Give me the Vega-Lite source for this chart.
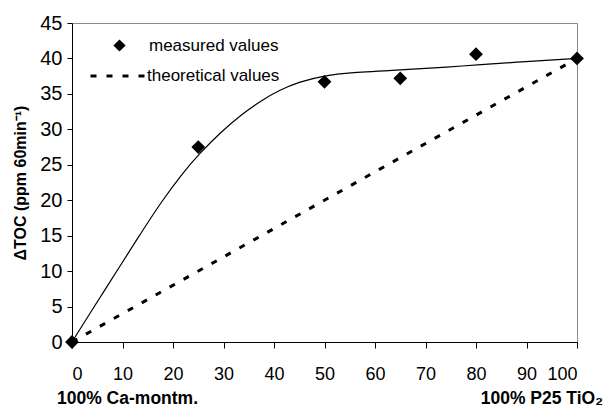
{
  "$schema": "https://vega.github.io/schema/vega-lite/v6.json",
  "width": 505,
  "height": 319,
  "autosize": {"type": "none"},
  "padding": {"left": 72, "top": 23, "right": 28, "bottom": 66},
  "background": "white",
  "config": {
    "font": "Liberation Sans",
    "view": {"stroke": "#8c8c8c", "strokeWidth": 1},
    "axis": {
      "domainColor": "black",
      "domainWidth": 1,
      "tickColor": "black",
      "labelColor": "black",
      "labelFont": "Liberation Sans",
      "grid": false,
      "titleColor": "black"
    },
    "legend": {"labelFontSize": 17, "labelColor": "black", "labelFont": "Liberation Sans"}
  },
  "encoding": {
    "x": {"field": "x", "type": "quantitative", "scale": {"domain": [0, 100], "nice": false},
      "axis": {"values": [0,10,20,30,40,50,60,70,80,90,100], "title": null, "tickSize": 6, "labelPadding": 17, "labelFontSize": 18}},
    "y": {"field": "y", "type": "quantitative", "scale": {"domain": [0, 45], "nice": false},
      "axis": {"values": [0,5,10,15,20,25,30,35,40,45], "title": "ΔTOC (ppm 60min⁻¹)", "tickSize": 5, "labelPadding": 5, "labelFontSize": 20,
        "titleFont": "Liberation Sans", "titleFontSize": 16, "titleFontWeight": "bold", "titlePadding": 11, "titleLimit": 400}}
  },
  "layer": [
    {
      "data": {"values": [{"x": 0, "y": 0, "series": "theoretical values"}, {"x": 100, "y": 40, "series": "theoretical values"}]},
      "mark": {"type": "line", "color": "black", "strokeWidth": 3},
      "encoding": {
        "strokeDash": {"field": "series", "type": "nominal",
          "scale": {"domain": ["theoretical values"], "range": [[6, 10]]},
          "legend": {"orient": "none", "legendX": 17, "legendY": 24, "title": null, "padding": 0,
            "symbolType": "stroke", "symbolSize": 3025, "symbolStrokeWidth": 3, "symbolStrokeColor": "black", "labelOffset": 0}}
      }
    },
    {
      "data": {"values": [
        {"x": 0, "y": 0}, {"x": 3.5, "y": 4.0}, {"x": 9.5, "y": 10.7}, {"x": 13.5, "y": 15.2},
        {"x": 17.8, "y": 19.9}, {"x": 22, "y": 23.9}, {"x": 25, "y": 26.4}, {"x": 29.6, "y": 29.7},
        {"x": 33.9, "y": 32.3}, {"x": 37.6, "y": 34.1}, {"x": 41, "y": 35.5}, {"x": 45, "y": 36.7},
        {"x": 50, "y": 37.6}, {"x": 55, "y": 38.0}, {"x": 65, "y": 38.4}, {"x": 75, "y": 38.8},
        {"x": 80, "y": 39.1}, {"x": 91, "y": 39.6}, {"x": 100, "y": 40.0}
      ]},
      "mark": {"type": "line", "color": "black", "strokeWidth": 1.2, "interpolate": "basis"}
    },
    {
      "data": {"values": [
        {"x": 0, "y": 0, "series": "measured values"},
        {"x": 25, "y": 27.5, "series": "measured values"},
        {"x": 50, "y": 36.7, "series": "measured values"},
        {"x": 65, "y": 37.2, "series": "measured values"},
        {"x": 80, "y": 40.6, "series": "measured values"},
        {"x": 100, "y": 40.0, "series": "measured values"}
      ]},
      "mark": {"type": "point", "filled": true, "color": "black", "opacity": 1, "size": 190},
      "encoding": {
        "shape": {"field": "series", "type": "nominal",
          "scale": {"domain": ["measured values"], "range": ["diamond"]},
          "legend": {"orient": "none", "legendX": 39, "legendY": 14, "title": null, "padding": 0,
            "symbolSize": 150, "symbolFillColor": "black", "symbolStrokeColor": "black", "symbolOpacity": 1, "labelOffset": 21}}
      }
    },
    {
      "data": {"values": [{"x": 0, "y": 0, "label": "100% Ca-montm."}]},
      "mark": {"type": "text", "fontWeight": "bold", "fontSize": 17.5, "align": "left", "baseline": "middle", "dx": -15, "dy": 57, "color": "black"},
      "encoding": {"text": {"field": "label"}}
    },
    {
      "data": {"values": [{"x": 100, "y": 0, "label": "100% P25 TiO₂"}]},
      "mark": {"type": "text", "fontWeight": "bold", "fontSize": 17.5, "align": "right", "baseline": "middle", "dx": 26, "dy": 57, "color": "black"},
      "encoding": {"text": {"field": "label"}}
    }
  ]
}
